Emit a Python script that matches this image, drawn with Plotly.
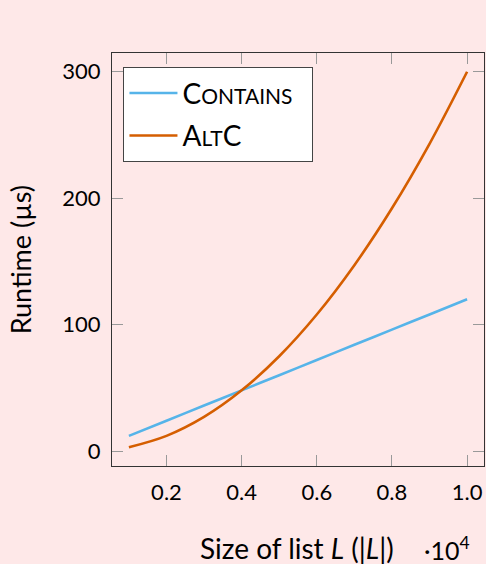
import plotly.graph_objects as go

# Data (list size in units of 10^4, runtime in microseconds)
list_size = [0.1, 0.2, 0.3, 0.4, 0.5, 0.6, 0.7, 0.8, 0.9, 1.0]
contains_runtime = [12, 24, 36, 48, 60, 72, 84, 96, 108, 120]
altc_runtime = [3, 12, 27, 48, 75, 108, 147, 192, 243, 300]

x_ticks = [0.2, 0.4, 0.6, 0.8, 1.0]
x_tick_labels = ["0.2", "0.4", "0.6", "0.8", "1.0"]
y_ticks = [0, 100, 200, 300]
y_tick_labels = ["0", "100", "200", "300"]

BG = "#FEE8E8"
BLUE = "#56B4E9"
ORANGE = "#D55E00"
FONT = "Lato"
SC = 'style="font-size:21px"'

fig = go.Figure()
fig.add_trace(go.Scatter(
    x=list_size, y=contains_runtime, mode="lines", line_shape="spline",
    line=dict(color=BLUE, width=2.6),
    name=f'C<span {SC}>ONTAINS</span>  ', legendgroup="a"))
fig.add_trace(go.Scatter(
    x=list_size, y=altc_runtime, mode="lines", line_shape="spline",
    line=dict(color=ORANGE, width=2.6),
    name=f'A<span {SC}>LT</span>C', legendgroup="b"))

axis_common = dict(
    showline=True, linecolor="#333333", linewidth=1.3, mirror="allticks",
    ticks="inside", ticklen=11, tickcolor="#999999", tickwidth=1.3,
    showgrid=False, zeroline=False,
    tickfont=dict(family=FONT, size=22, color="#000000"),
)

fig.update_layout(
    width=486, height=564,
    margin=dict(l=112, r=2, t=53, b=98),
    paper_bgcolor=BG, plot_bgcolor=BG,
    font=dict(family=FONT, color="#000000"),
    xaxis=dict(range=[0.055, 1.045], tickvals=x_ticks, ticktext=x_tick_labels,
               ticklabelstandoff=6, **axis_common),
    yaxis=dict(range=[-11.85, 314.85], tickvals=y_ticks, ticktext=y_tick_labels,
               ticklabelstandoff=6, **axis_common),
    showlegend=True,
    legend=dict(x=0.03, y=0.966, xanchor="left", yanchor="top",
                bgcolor="white", bordercolor="#444444", borderwidth=1.3,
                font=dict(family=FONT, size=28, color="#000000"),
                tracegroupgap=3, itemwidth=48),
    annotations=[
        dict(text="Size of list <i>L</i> (|<i>L</i>|)", xref="paper", yref="paper",
             x=0.497, y=-0.199, xanchor="center", yanchor="middle", showarrow=False,
             font=dict(family=FONT, size=28, color="#000000")),
        dict(text="·10<sup>4</sup>", xref="paper", yref="paper",
             x=0.90, y=-0.199, xanchor="center", yanchor="middle", showarrow=False,
             font=dict(family=FONT, size=25, color="#000000")),
        dict(text="Runtime (µs)", xref="paper", yref="paper", textangle=-90,
             x=-0.245, y=0.5, xanchor="center", yanchor="middle", showarrow=False,
             font=dict(family=FONT, size=27, color="#000000")),
    ],
)

fig.write_html("out.html")
